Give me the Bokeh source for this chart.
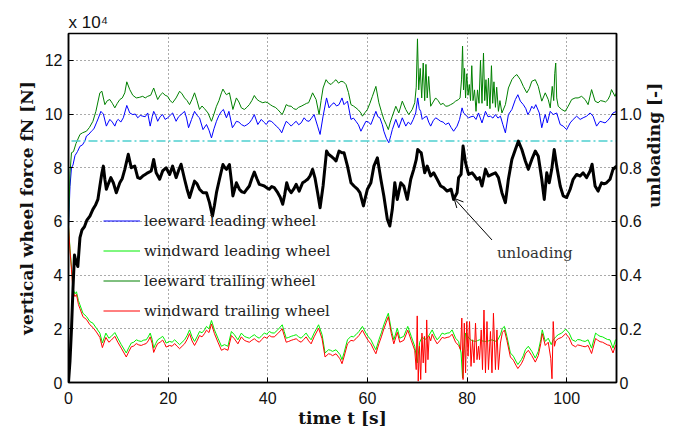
import math
from bokeh.plotting import figure
from bokeh.models import (Range1d, LinearAxis, FixedTicker, Label, Legend, LegendItem,
                          Arrow, OpenHead, Title)
from bokeh.embed import file_html
from bokeh.resources import INLINE

# ---------------- data (forces in 10^4 N, time in s) ----------------
x_ticks = [0, 20, 40, 60, 80, 100]
y_ticks = [0, 2, 4, 6, 8, 10, 12]
unl_ticks = [0, 0.2, 0.4, 0.6, 0.8, 1.0]
unl_tick_labels = ["0", "0.2", "0.4", "0.6", "0.8", "1.0"]

leeward_leading = [(0,5.8),(0.3,7.3),(0.6,8.0),(0.9,8.1),(1.3,8.45),(1.8,8.6),(2.3,8.8),(2.8,8.85),(3.3,9.0),(3.6,9.18),(4.1,9.25),(4.6,9.36),(5.1,9.45),(5.6,9.67),(6.0,9.85),(6.5,10.1),(7.0,10.0),(7.6,9.55),(8.0,9.7),(8.3,9.8),(8.8,9.7),(9.3,9.55),(9.7,9.75),(10.0,9.8),(10.5,9.7),(11.0,9.86),(11.7,10.32),(12.3,10.04),(12.9,9.98),(13.4,10.0),(13.9,9.86),(14.4,9.95),(14.9,9.92),(15.4,9.9),(15.9,10.04),(16.4,9.55),(16.8,9.9),(17.1,10.1),(17.5,9.95),(17.9,9.73),(18.4,9.9),(18.9,9.98),(19.4,9.8),(19.9,9.86),(20.4,9.95),(20.9,10.04),(21.6,9.73),(22.1,9.9),(22.6,9.98),(23.3,10.1),(23.7,9.85),(24.1,9.49),(24.7,9.8),(25.3,10.1),(25.8,9.95),(26.3,9.86),(27.0,9.42),(27.7,9.61),(28.2,9.4),(28.7,9.11),(29.2,9.45),(29.7,9.73),(30.2,9.95),(30.7,10.1),(31.1,10.17),(31.7,9.86),(32.2,10.1),(32.9,9.49),(33.3,9.6),(33.7,9.73),(34.2,9.7),(34.7,9.61),(35.3,9.55),(35.8,9.6),(36.3,9.67),(36.8,9.8),(37.3,9.98),(38.0,9.61),(38.7,9.8),(39.2,9.7),(39.7,9.61),(40.2,9.75),(40.7,9.73),(41.2,9.65),(41.7,9.55),(42.3,9.45),(42.8,9.3),(43.3,9.55),(43.7,9.73),(44.2,9.65),(44.7,9.55),(45.2,9.65),(45.7,9.73),(46.2,9.6),(46.7,9.67),(47.3,9.86),(47.8,9.75),(48.3,9.73),(48.8,9.85),(49.3,9.98),(50.0,9.55),(50.5,9.24),(51.1,9.92),(51.8,10.6),(52.3,10.23),(52.8,10.35),(53.3,10.42),(53.8,10.3),(54.3,10.35),(54.9,10.6),(55.3,10.35),(56.0,10.48),(56.7,9.8),(57.2,9.85),(57.7,9.73),(58.2,9.6),(58.7,9.36),(59.2,9.55),(59.7,9.73),(60.2,9.7),(60.7,9.61),(61.2,9.85),(61.7,10.1),(62.1,9.9),(62.5,9.86),(63.0,9.6),(63.3,9.36),(63.8,9.1),(64.3,8.93),(64.7,9.2),(65.0,9.42),(65.7,9.8),(66.3,9.49),(67.0,9.86),(67.7,9.55),(68.2,9.7),(68.7,9.61),(69.2,9.8),(69.7,10.04),(70.1,10.6),(70.4,10.2),(70.7,10.1),(71.0,9.8),(71.3,9.86),(71.9,9.92),(72.3,9.7),(72.7,9.55),(73.2,9.75),(73.7,9.86),(74.2,9.8),(74.7,9.73),(75.2,9.7),(75.7,9.61),(76.3,9.67),(76.8,9.5),(77.3,9.36),(78.0,9.55),(78.5,9.8),(79.0,10.23),(79.3,10.04),(79.8,9.95),(80.3,9.86),(80.8,9.9),(81.3,9.92),(81.8,9.8),(82.3,10.04),(83.0,9.67),(83.7,10.1),(84.2,9.9),(84.7,9.92),(85.2,9.85),(85.7,9.98),(86.2,9.85),(86.7,9.92),(87.2,9.6),(87.7,9.3),(88.3,9.98),(89.0,10.17),(89.7,10.54),(90.2,10.72),(90.7,10.48),(91.3,10.35),(91.8,10.2),(92.2,9.98),(92.6,10.1),(93.0,10.29),(93.4,10.2),(93.8,10.35),(94.5,10.04),(95.0,9.49),(95.4,9.8),(95.7,9.98),(96.1,9.67),(96.7,10.1),(97.3,9.98),(98.0,10.04),(98.7,9.61),(99.3,9.55),(100.0,9.42),(100.7,9.67),(101.3,9.8),(102.0,9.92),(102.7,9.8),(103.3,9.86),(104.0,9.92),(104.7,10.04),(105.3,9.92),(106.0,9.55),(106.7,9.73),(107.2,9.7),(107.7,9.67),(108.2,9.75),(108.7,9.86),(109.3,10.04),(110.0,10.1)]

leeward_trailing = [(0,5.8),(0.3,7.8),(0.6,8.56),(1.0,8.6),(1.5,8.9),(2.3,9.24),(2.8,9.3),(3.6,9.36),(4.2,9.5),(4.9,9.73),(5.5,10.1),(6.3,10.79),(6.7,10.85),(7.3,10.35),(7.8,10.5),(8.3,10.54),(8.8,10.4),(9.3,10.23),(9.8,10.4),(10.3,10.54),(10.8,10.6),(11.3,10.79),(11.7,11.2),(12.3,10.91),(12.9,10.7),(13.6,10.6),(14.2,10.62),(14.9,10.66),(15.4,10.6),(15.9,10.66),(16.5,10.7),(17.1,10.97),(17.5,10.75),(17.9,10.54),(18.4,10.7),(18.9,10.79),(19.4,10.7),(19.9,10.66),(20.4,10.5),(20.9,10.42),(21.6,10.6),(22.3,10.85),(22.8,10.75),(23.3,10.6),(23.8,10.5),(24.3,10.35),(24.8,10.55),(25.3,10.79),(25.8,10.5),(26.3,10.17),(26.8,10.3),(27.3,10.2),(28.0,10.04),(28.7,9.73),(29.2,10.0),(29.7,10.29),(30.2,10.5),(30.7,10.79),(31.0,10.93),(31.4,10.8),(31.7,10.72),(32.3,10.79),(33.0,10.17),(33.7,10.6),(34.2,10.45),(34.7,10.23),(35.3,10.17),(35.8,10.25),(36.3,10.35),(36.8,10.5),(37.3,10.69),(37.8,10.55),(38.3,10.48),(39.0,10.42),(39.5,10.45),(40.0,10.42),(40.5,10.35),(41.0,10.29),(41.5,10.25),(42.0,10.17),(42.9,9.98),(43.3,10.15),(43.7,10.35),(44.2,10.3),(44.7,10.29),(45.2,10.2),(45.7,10.17),(46.2,10.25),(46.7,10.29),(47.3,10.35),(47.8,10.4),(48.2,10.42),(48.6,10.6),(49.0,10.79),(49.7,10.54),(50.3,9.98),(50.7,10.5),(51.1,10.97),(51.7,11.28),(52.2,11.15),(52.7,11.1),(53.2,11.2),(53.7,11.28),(54.2,11.15),(54.7,11.22),(55.2,11.2),(55.7,11.1),(56.2,10.8),(56.7,10.35),(57.2,10.3),(57.7,10.23),(58.2,10.15),(58.7,10.04),(59.0,9.92),(59.5,10.05),(60.0,10.17),(60.5,10.4),(61.0,10.66),(61.7,11.03),(62.3,10.42),(62.8,10.1),(63.3,9.8),(63.8,9.6),(64.2,9.42),(64.6,9.7),(65.0,9.92),(65.7,10.29),(66.3,10.04),(67.0,10.48),(67.7,10.17),(68.3,9.98),(69.0,10.17),(69.5,10.42),(69.8,11.0),(70.05,12.8),(70.3,10.9),(70.6,11.7),(70.9,10.6),(71.2,11.9),(71.5,10.5),(71.75,11.85),(72.0,10.6),(72.3,11.4),(72.7,10.29),(73.2,10.45),(73.7,10.6),(74.2,10.5),(74.7,10.35),(75.2,10.4),(75.7,10.29),(76.2,10.3),(76.7,10.35),(77.2,10.4),(77.7,10.48),(78.3,10.54),(78.6,10.6),(78.9,11.3),(79.1,12.53),(79.3,10.9),(79.5,11.7),(79.7,10.6),(79.95,11.5),(80.2,10.7),(80.45,11.1),(80.7,10.5),(80.95,11.8),(81.2,10.5),(81.5,10.9),(81.8,10.1),(82.1,10.9),(82.4,10.4),(82.7,12.0),(83.0,10.4),(83.3,12.27),(83.55,10.5),(83.8,11.28),(84.05,10.3),(84.3,11.34),(84.6,10.2),(84.9,11.8),(85.15,10.4),(85.4,11.2),(85.7,10.25),(85.95,11.0),(86.3,10.1),(86.6,10.5),(87.0,10.04),(87.7,10.35),(88.3,10.97),(89.0,11.28),(89.5,11.4),(90.0,11.47),(90.7,11.28),(91.3,11.03),(92.0,10.79),(92.5,10.95),(93.0,11.22),(93.7,11.28),(94.3,11.03),(95.0,10.48),(95.7,10.79),(96.3,10.54),(96.7,10.23),(97.1,11.03),(97.4,10.5),(97.6,11.5),(97.8,11.9),(98.0,10.6),(98.3,10.29),(99.0,10.17),(99.7,10.1),(100.3,10.29),(101.0,10.54),(101.7,10.6),(102.3,10.6),(103.0,10.66),(103.7,10.54),(104.3,10.35),(105.0,10.91),(105.7,10.48),(106.3,10.42),(106.8,10.5),(107.3,10.48),(107.8,10.45),(108.3,10.54),(108.7,10.7),(109.0,10.91),(109.7,10.66),(110.0,10.8)]

windward_leading = [(0,5.8),(0.3,5.0),(0.6,4.3),(0.9,3.5),(1.3,3.3),(1.6,3.38),(2.0,3.05),(2.3,2.89),(2.9,2.58),(3.6,2.46),(4.3,2.27),(4.9,2.21),(5.6,2.02),(6.3,1.84),(6.8,1.47),(7.5,1.84),(8.1,1.65),(8.6,1.72),(9.3,1.86),(9.9,1.65),(10.6,1.41),(11.6,1.1),(12.1,1.3),(12.6,1.47),(13.1,1.5),(13.6,1.59),(14.1,1.55),(14.6,1.53),(15.1,1.58),(15.6,1.59),(16.0,1.7),(16.4,1.84),(16.8,1.6),(17.1,1.28),(17.5,1.45),(17.9,1.59),(18.4,1.65),(18.9,1.72),(19.3,1.6),(19.6,1.47),(20.3,1.53),(20.8,1.5),(21.3,1.59),(21.8,1.5),(22.3,1.41),(22.8,1.5),(23.3,1.59),(23.8,1.75),(24.3,1.96),(24.8,1.7),(25.3,1.53),(25.8,1.7),(26.3,1.9),(26.8,1.85),(27.3,1.96),(27.7,2.09),(28.2,2.0),(28.7,2.31),(29.3,1.96),(30.0,1.65),(30.7,1.35),(31.3,1.41),(32.0,1.35),(32.7,1.9),(33.3,1.78),(34.0,1.59),(34.7,1.84),(35.3,1.72),(35.8,1.68),(36.3,1.65),(36.8,1.72),(37.3,1.78),(37.8,1.7),(38.3,1.65),(38.8,1.75),(39.3,1.84),(39.8,1.8),(40.3,1.9),(40.8,1.85),(41.3,1.84),(42.0,1.96),(42.9,2.15),(43.3,1.9),(43.7,1.65),(44.2,1.68),(44.7,1.72),(45.2,1.75),(45.7,1.78),(46.2,1.7),(46.7,1.65),(47.2,1.75),(47.7,1.84),(48.2,1.7),(48.7,1.59),(49.3,1.84),(50.2,2.15),(50.9,1.78),(51.5,1.1),(52.2,1.22),(52.6,1.2),(53.0,1.16),(53.7,1.22),(54.5,1.04),(54.9,0.85),(55.3,1.1),(56.0,1.59),(56.7,1.72),(57.2,1.7),(57.7,1.78),(58.3,1.9),(59.0,2.09),(59.7,1.84),(60.2,1.7),(60.7,1.59),(61.2,1.4),(61.7,1.22),(62.3,1.59),(62.8,1.85),(63.3,2.15),(63.8,2.4),(64.2,2.58),(64.8,1.96),(65.3,1.59),(66.0,2.02),(66.5,1.65),(67.3,1.72),(68.1,2.09),(68.8,1.72),(69.5,1.35),(70.0,0.73),(70.5,1.5),(71.0,1.7),(71.5,1.6),(72.0,1.65),(72.5,1.8),(73.0,1.96),(73.5,1.75),(74.0,1.59),(74.5,1.7),(75.0,1.84),(75.5,1.8),(76.0,1.84),(76.5,1.85),(77.0,1.96),(77.7,1.65),(78.3,1.53),(78.8,1.1),(79.1,0.17),(79.4,1.2),(79.7,1.84),(80.2,1.7),(80.7,1.59),(81.2,1.55),(81.7,1.53),(82.1,1.56),(82.5,1.59),(83.0,1.55),(83.7,1.53),(84.3,1.55),(85.0,1.59),(85.5,1.55),(86.0,1.53),(86.7,1.78),(87.1,2.02),(87.5,2.09),(88.0,1.72),(88.7,1.1),(89.3,0.98),(89.8,0.8),(90.2,0.67),(90.9,0.85),(91.3,1.0),(91.7,1.22),(92.3,1.35),(93.0,1.16),(93.7,0.91),(94.3,1.16),(94.8,1.6),(95.1,1.96),(95.7,1.53),(96.3,1.65),(96.9,1.41),(97.3,1.59),(97.8,1.7),(98.3,1.78),(99.0,1.84),(99.8,1.99),(100.5,1.84),(101.1,1.59),(101.8,1.53),(102.2,1.6),(102.7,1.59),(103.2,1.55),(103.7,1.53),(104.3,1.59),(105.0,1.28),(105.8,1.84),(106.2,1.78),(106.7,1.72),(107.2,1.7),(107.7,1.65),(108.2,1.6),(108.7,1.59),(109.3,1.28),(109.8,1.59),(110.0,1.62)]

windward_trailing = [(0,5.8),(0.3,4.9),(0.6,4.2),(0.9,3.4),(1.3,3.2),(1.6,3.28),(2.0,2.9),(2.3,2.75),(2.9,2.45),(3.6,2.35),(4.3,2.15),(4.9,2.05),(5.6,1.88),(6.3,1.68),(6.8,1.3),(7.5,1.68),(8.1,1.5),(8.6,1.58),(9.3,1.72),(9.9,1.5),(10.6,1.28),(11.6,0.95),(12.1,1.15),(12.6,1.33),(13.1,1.36),(13.6,1.45),(14.1,1.4),(14.6,1.38),(15.1,1.42),(15.6,1.45),(16.0,1.55),(16.4,1.7),(16.8,1.45),(17.1,1.12),(17.5,1.3),(17.9,1.45),(18.4,1.5),(18.9,1.58),(19.3,1.45),(19.6,1.32),(20.3,1.38),(20.8,1.35),(21.3,1.45),(21.8,1.35),(22.3,1.26),(22.8,1.35),(23.3,1.44),(23.8,1.6),(24.3,1.82),(24.8,1.55),(25.3,1.38),(25.8,1.55),(26.3,1.75),(26.8,1.7),(27.3,1.82),(27.7,1.95),(28.2,1.86),(28.7,2.18),(29.3,1.82),(30.0,1.5),(30.7,1.2),(31.3,1.26),(32.0,1.2),(32.7,1.75),(33.3,1.63),(34.0,1.44),(34.7,1.7),(35.3,1.57),(35.8,1.53),(36.3,1.5),(36.8,1.57),(37.3,1.63),(37.8,1.55),(38.3,1.5),(38.8,1.6),(39.3,1.7),(39.8,1.65),(40.3,1.75),(40.8,1.7),(41.3,1.7),(42.0,1.82),(42.9,2.0),(43.3,1.75),(43.7,1.5),(44.2,1.53),(44.7,1.57),(45.2,1.6),(45.7,1.63),(46.2,1.55),(46.7,1.5),(47.2,1.6),(47.7,1.7),(48.2,1.55),(48.7,1.44),(49.3,1.7),(50.2,2.02),(50.9,1.63),(51.5,0.95),(52.2,1.07),(52.6,1.05),(53.0,1.0),(53.7,1.07),(54.5,0.88),(54.9,0.7),(55.3,0.95),(56.0,1.44),(56.7,1.57),(57.2,1.55),(57.7,1.63),(58.3,1.75),(59.0,1.95),(59.7,1.7),(60.2,1.55),(60.7,1.44),(61.2,1.25),(61.7,1.07),(62.3,1.44),(62.8,1.7),(63.3,2.0),(63.8,2.25),(64.2,2.45),(64.8,1.82),(65.3,1.44),(66.0,1.87),(66.5,1.5),(67.3,1.57),(68.1,1.95),(68.8,1.57),(69.5,1.2),(69.8,0.48),(70.0,2.48),(70.2,0.05),(70.45,1.35),(70.7,0.11),(70.95,1.84),(71.2,0.73),(71.45,1.72),(71.7,0.36),(71.9,2.33),(72.15,0.85),(72.4,1.72),(72.7,1.55),(73.0,1.8),(73.5,1.6),(74.0,1.44),(74.5,1.55),(75.0,1.68),(75.5,1.65),(76.0,1.68),(76.5,1.7),(77.0,1.8),(77.7,1.5),(78.3,1.38),(78.7,1.22),(78.95,2.4),(79.2,0.11),(79.45,2.21),(79.7,0.36),(79.95,2.27),(80.2,0.98),(80.5,2.27),(80.8,0.6),(81.1,1.59),(81.4,0.73),(81.7,2.21),(82.0,0.85),(82.3,1.35),(82.5,0.85),(82.85,1.96),(83.1,0.48),(83.4,2.7),(83.7,0.36),(84.0,2.27),(84.3,0.48),(84.7,1.9),(85.0,0.36),(85.3,2.58),(85.7,0.48),(86.0,1.96),(86.3,0.48),(86.7,1.47),(87.1,1.87),(87.5,1.95),(88.0,1.57),(88.7,0.95),(89.3,0.83),(89.8,0.65),(90.2,0.52),(90.9,0.7),(91.3,0.85),(91.7,1.07),(92.3,1.2),(93.0,1.0),(93.7,0.76),(94.3,1.0),(94.8,1.45),(95.1,1.82),(95.7,1.38),(96.3,1.5),(96.8,0.9),(97.05,0.14),(97.3,2.27),(97.55,1.35),(97.8,1.55),(98.3,1.63),(99.0,1.68),(99.8,1.82),(100.5,1.66),(101.1,1.4),(101.8,1.33),(102.2,1.4),(102.7,1.38),(103.2,1.35),(103.7,1.33),(104.3,1.38),(105.0,1.08),(105.8,1.64),(106.2,1.58),(106.7,1.52),(107.2,1.5),(107.7,1.45),(108.2,1.4),(108.7,1.38),(109.3,1.1),(109.8,1.38),(110.0,1.42)]

# unloading [-] on the right axis
unloading = [(0,0.0),(0.3,0.08),(0.6,0.2),(0.9,0.35),(1.2,0.475),(1.5,0.45),(1.87,0.432),(2.3,0.54),(2.7,0.568),(3.2,0.58),(3.7,0.605),(4.3,0.62),(4.9,0.645),(5.4,0.66),(5.9,0.682),(6.3,0.732),(6.7,0.78),(7.0,0.806),(7.3,0.757),(7.6,0.72),(8.0,0.74),(8.5,0.763),(9.0,0.744),(9.6,0.707),(10.3,0.744),(10.8,0.76),(11.3,0.794),(12.0,0.85),(12.6,0.80),(13.3,0.806),(13.9,0.763),(14.4,0.76),(14.9,0.769),(15.4,0.775),(15.9,0.781),(16.6,0.788),(17.1,0.831),(17.6,0.781),(18.3,0.757),(18.9,0.788),(19.6,0.80),(20.3,0.775),(20.9,0.806),(21.6,0.763),(22.1,0.79),(22.6,0.813),(23.3,0.757),(23.8,0.72),(24.3,0.689),(24.8,0.72),(25.3,0.75),(25.8,0.74),(26.3,0.72),(27.0,0.707),(27.7,0.707),(28.3,0.67),(28.9,0.62),(29.3,0.66),(29.7,0.707),(30.3,0.757),(31.0,0.812),(31.4,0.80),(31.7,0.794),(32.3,0.812),(32.7,0.75),(33.0,0.695),(33.7,0.744),(34.3,0.72),(34.8,0.71),(35.3,0.707),(35.8,0.72),(36.3,0.732),(36.8,0.76),(37.3,0.784),(37.8,0.76),(38.3,0.738),(38.8,0.735),(39.3,0.732),(39.8,0.725),(40.3,0.72),(40.8,0.73),(41.3,0.726),(42.0,0.707),(42.5,0.69),(43.0,0.664),(43.4,0.70),(43.8,0.744),(44.2,0.72),(44.7,0.707),(45.2,0.72),(45.7,0.738),(46.3,0.713),(47.0,0.744),(47.5,0.75),(48.0,0.757),(48.5,0.77),(49.0,0.794),(49.5,0.76),(50.0,0.707),(50.5,0.651),(51.1,0.732),(51.8,0.862),(52.2,0.85),(52.7,0.843),(53.2,0.835),(53.7,0.825),(54.3,0.862),(54.9,0.856),(55.3,0.856),(56.0,0.806),(56.7,0.744),(57.3,0.732),(58.0,0.72),(58.5,0.707),(59.2,0.658),(59.6,0.69),(60.0,0.72),(60.7,0.744),(61.3,0.806),(62.0,0.837),(62.7,0.757),(63.3,0.695),(64.0,0.608),(64.5,0.583),(65.0,0.645),(65.5,0.744),(66.0,0.682),(66.7,0.744),(67.3,0.732),(68.0,0.682),(68.7,0.757),(69.3,0.794),(69.8,0.83),(70.1,0.868),(70.5,0.86),(70.8,0.856),(71.5,0.781),(72.0,0.806),(72.7,0.769),(73.3,0.781),(74.0,0.757),(74.7,0.732),(75.3,0.726),(76.0,0.713),(76.8,0.72),(77.3,0.682),(78.0,0.707),(78.3,0.763),(78.8,0.775),(79.2,0.881),(79.7,0.819),(80.3,0.775),(81.0,0.781),(81.5,0.77),(82.0,0.757),(82.5,0.763),(83.0,0.732),(83.7,0.794),(84.3,0.769),(85.0,0.775),(85.7,0.781),(86.3,0.763),(87.0,0.707),(87.7,0.67),(88.3,0.757),(89.0,0.831),(89.7,0.868),(90.3,0.899),(91.0,0.868),(91.7,0.825),(92.3,0.794),(93.0,0.831),(93.7,0.862),(94.3,0.843),(95.0,0.757),(95.5,0.682),(96.0,0.781),(96.5,0.744),(97.0,0.794),(97.5,0.868),(98.0,0.806),(98.7,0.732),(99.3,0.695),(100.0,0.689),(100.7,0.72),(101.3,0.757),(102.0,0.775),(102.7,0.769),(103.3,0.781),(104.0,0.763),(104.7,0.788),(105.1,0.813),(105.7,0.732),(106.3,0.713),(107.0,0.744),(107.5,0.74),(108.0,0.744),(108.7,0.757),(109.3,0.794),(110.0,0.806)]

threshold_t = [0.6, 110]
threshold_v = [9.0, 9.0]

arrow_from = (85.0, 5.31)
arrow_to = (77.4, 6.86)


def split(pairs):
    return [a for a, _ in pairs], [b for _, b in pairs]


SERIF = "DejaVu Serif"
SANS = "Liberation Sans"

force_range = Range1d(0, 13)
unl_range = Range1d(0, 1.3)

p = figure(width=676, height=430, x_range=Range1d(0, 110), y_range=force_range,
           output_backend="svg", toolbar_location=None,
           min_border_left=68, min_border_right=60, min_border_top=33, min_border_bottom=47)
p.extra_y_ranges = {"unl": unl_range}
p.background_fill_color = "white"
p.border_fill_color = "white"
p.outline_line_color = "black"
p.outline_line_width = 1.5

left = p.yaxis[0]
bottom = p.xaxis[0]
bottom.ticker = FixedTicker(ticks=x_ticks)
left.ticker = FixedTicker(ticks=y_ticks)

# right axis: unloading ticks placed through the ratio of the two ranges
scale = (force_range.end - force_range.start) / (unl_range.end - unl_range.start)
right_pos = [u * scale for u in unl_ticks]
right = LinearAxis(ticker=FixedTicker(ticks=right_pos),
                   major_label_overrides={pos: lab for pos, lab in zip(right_pos, unl_tick_labels)})
p.add_layout(right, "right")

for ax in [bottom, left, right]:
    ax.major_tick_in = 5
    ax.major_tick_out = 0
    ax.minor_tick_in = 0
    ax.minor_tick_out = 0
    ax.axis_line_width = 1.5
    ax.axis_line_color = "black"
    ax.major_tick_line_color = "black"
    ax.major_label_text_font = SANS
    ax.major_label_text_font_size = "16px"
    ax.major_label_text_color = "#111111"
    ax.axis_label_text_font = SERIF
    ax.axis_label_text_font_size = "17px"
    ax.axis_label_text_font_style = "bold"
    ax.axis_label_text_color = "#111111"
bottom.major_label_standoff = 9
left.major_label_standoff = 6
right.major_label_standoff = 3

left.axis_label = "vertical wheel force fN [N]"
left.axis_label_standoff = 5
bottom.axis_label = "time t [s]"
bottom.axis_label_standoff = 1
right.axis_label = "unloading [-]"
right.axis_label_standoff = 9
try:
    right.axis_label_orientation = math.pi / 2
except (AttributeError, ValueError):
    pass

for g in [p.xgrid[0], p.ygrid[0]]:
    g.grid_line_color = "#444444"
    g.grid_line_dash = "1 3"
    g.grid_line_width = 1
    g.grid_line_alpha = 0.9

t1, v1 = split(leeward_leading)
t2, v2 = split(windward_leading)
t3, v3 = split(leeward_trailing)
t4, v4 = split(windward_trailing)
tu, vu = split(unloading)

r1 = p.line(t1, v1, line_color="#0000ff", line_width=1)
r2 = p.line(t2, v2, line_color="#00ee00", line_width=1)
r3 = p.line(t3, v3, line_color="#008000", line_width=1)
r4 = p.line(t4, v4, line_color="#ff0000", line_width=1)
p.line(threshold_t, threshold_v, line_color="#4fd0d0", line_width=1.5, line_dash="9 3 2 3")
p.line(tu, vu, y_range_name="unl", line_color="black", line_width=3, line_join="round")

legend = Legend(items=[LegendItem(label="leeward leading wheel", renderers=[r1]),
                       LegendItem(label="windward leading wheel", renderers=[r2]),
                       LegendItem(label="leeward trailing wheel", renderers=[r3]),
                       LegendItem(label="windward trailing wheel", renderers=[r4])],
                location=(30, 53), label_text_font=SERIF, label_text_font_size="15px",
                label_text_color="#222222", glyph_width=37, glyph_height=27, label_height=27,
                spacing=3, padding=5, margin=0, label_standoff=4,
                background_fill_alpha=0, border_line_alpha=0)
p.add_layout(legend)

# exponent of the left axis
p.add_layout(Title(text="x 10\u2074", align="left", text_font=SANS, text_font_size="17px",
                   text_font_style="normal", text_color="#111111", standoff=3), "above")

p.add_layout(Label(x=86.0, y=4.83, text="unloading", text_font=SERIF, text_font_size="15px",
                   text_color="#333333", text_baseline="alphabetic"))
p.add_layout(Arrow(x_start=arrow_from[0], y_start=arrow_from[1], x_end=arrow_to[0], y_end=arrow_to[1],
                   line_color="black", line_width=1,
                   end=OpenHead(size=9, line_color="black", line_width=1)))

open("out.html", "w").write(file_html(p, INLINE))
